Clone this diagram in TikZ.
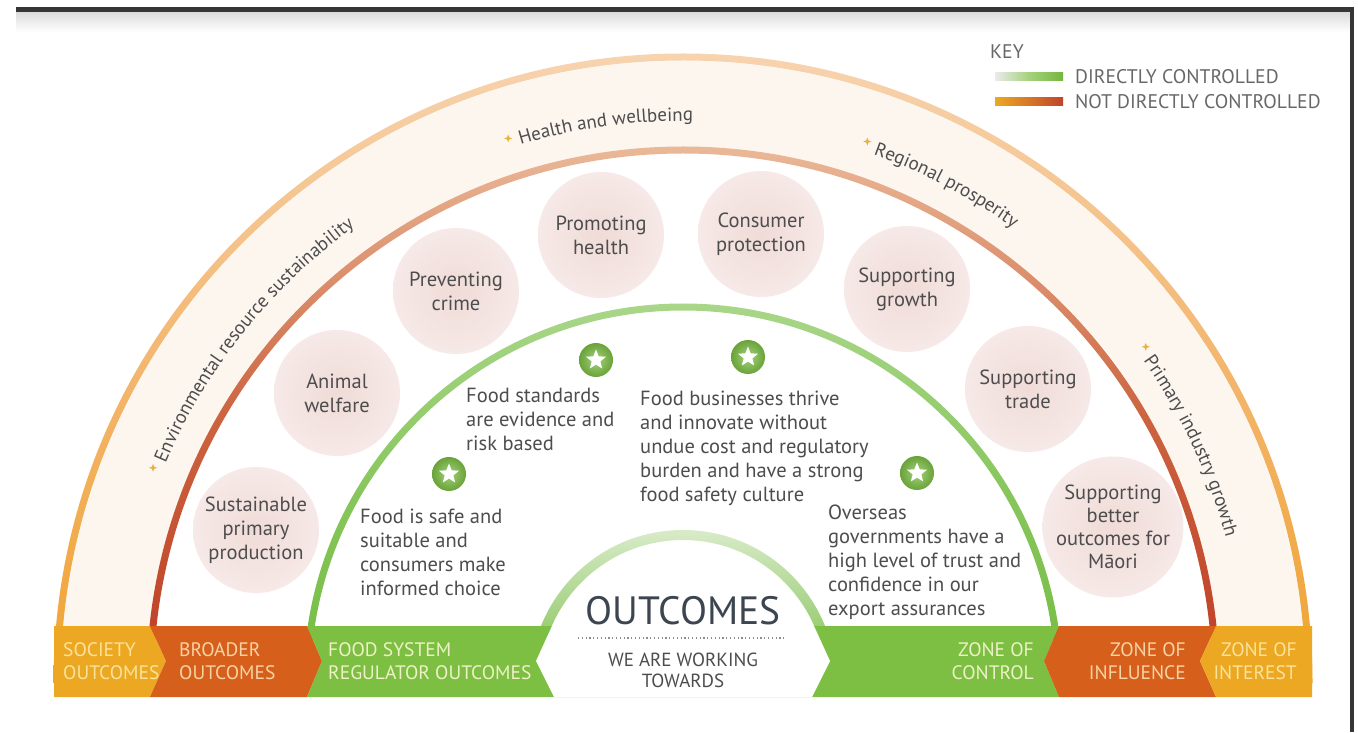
\documentclass[tikz,border=0pt]{standalone}
\usepackage{fontspec}
\setmainfont{PT Sans}
\usetikzlibrary{shapes.geometric,decorations.text}
\definecolor{yellowB}{HTML}{ECA823}
\definecolor{orangeB}{HTML}{D6601B}
\definecolor{greenB}{HTML}{7CBF43}
\definecolor{txtY}{HTML}{FBE39B}
\definecolor{txtO}{HTML}{F9D3A5}
\definecolor{txtG}{HTML}{EEF2C5}
\definecolor{txt}{HTML}{4D4D4D}
\definecolor{outc}{HTML}{3D4650}
\definecolor{cream}{HTML}{FCF6EF}
\definecolor{bubIn}{HTML}{F0DBD7}
\definecolor{bubOut}{HTML}{F6E9E7}
\definecolor{gold}{HTML}{E8B040}
\definecolor{frame}{HTML}{363636}
\newcommand\curvefont{\color{txt}\fontsize{19}{19}\selectfont}
\begin{document}
\begin{tikzpicture}[x=1pt,y=1pt,
  bubble/.style={circle, minimum size=126pt, inner sep=0pt, inner color=bubIn, outer color=bubOut, align=center, text=txt, font=\fontsize{20.5}{24}\selectfont},
  staricon/.style={circle, minimum size=34pt, inner sep=0pt, inner color=greenB!70!white, outer color=greenB!85!black},
  whitestar/.style={star, star points=5, star point ratio=2.3, minimum size=21pt, inner sep=0pt, fill=white},
  spark/.style={star, star points=4, star point ratio=2.6, minimum size=8pt, inner sep=0pt, fill=gold},
  body/.style={anchor=north west, inner sep=0pt, align=left, text=txt, font=\fontsize{20.5}{24}\selectfont},
  bandL/.style={anchor=west, inner sep=0pt, align=left, font=\fontsize{19.5}{23}\selectfont},
  bandR/.style={anchor=east, inner sep=0pt, align=right, font=\fontsize{19.5}{23}\selectfont},
  keytxt/.style={anchor=west, inner sep=0pt, text=txt!85, font=\fontsize{19.7}{19.7}\selectfont}
]
\useasboundingbox (0,0) rectangle (1358,732);
\fill[white] (0,0) rectangle (1358,732);
% frame
\shade[top color=black!14, bottom color=white] (16,700) rectangle (1350,720);
\fill[frame] (16,720) rectangle (1354,725);
\fill[frame] (1350,0) rectangle (1354,725);

\coordinate (C) at (683,49);
% cream ring
\fill[cream] (683+622,49) arc (0:180:622pt) -- (683-536,49) arc (180:0:536pt) -- cycle;
% outer arc
\shade[bottom color={rgb,255:red,239;green,163;blue,48}, top color={rgb,255:red,247;green,211;blue,175}, middle color={rgb,255:red,243;green,182;blue,110}]
  (683+629.5,49) arc (0:180:629.5pt) -- (683-622.5,49) arc (180:0:622.5pt) -- cycle;
% red arc
\shade[bottom color={rgb,255:red,190;green,60;blue,36}, top color={rgb,255:red,234;green,184;blue,152}, middle color={rgb,255:red,204;green,100;blue,64}]
  (683+536.5,49) arc (0:180:536.5pt) -- (683-529.5,49) arc (180:0:529.5pt) -- cycle;
% green arc
\shade[bottom color={rgb,255:red,116;green,188;blue,65}, top color={rgb,255:red,169;green,214;blue,137}, middle color={rgb,255:red,136;green,198;blue,92}]
  (683+379.5,49) arc (0:180:379.5pt) -- (683-372.5,49) arc (180:0:372.5pt) -- cycle;
% small arc
\shade[bottom color={rgb,255:red,125;green,192;blue,68}, top color={rgb,255:red,216;green,235;blue,200}, middle color={rgb,255:red,168;green,212;blue,136}]
  (683+153,49) arc (0:180:153pt) -- (683-143,49) arc (180:0:143pt) -- cycle;

% band
\fill[yellowB] (54,106) -- (150,106) -- (166,71) -- (150,35) -- (54,35) -- cycle;
\fill[orangeB] (150,106) -- (307,106) -- (322,71) -- (307,35) -- (150,35) -- (166,71) -- cycle;
\fill[greenB] (307,106) -- (1059,106) -- (1044,71) -- (1059,35) -- (307,35) -- (322,71) -- cycle;
\fill[orangeB] (1059,106) -- (1216,106) -- (1200,71) -- (1216,35) -- (1059,35) -- (1044,71) -- cycle;
\fill[yellowB] (1216,106) -- (1312,106) -- (1312,35) -- (1216,35) -- (1200,71) -- cycle;
\fill[white] (683-131,106) -- (683-147,71) -- (683-129,35) -- (683+129,35) -- (683+147,71) -- (683+131,106) -- cycle;

% band texts
\node[bandL, text=txtY] (b1) at (63,70.5) {SOCIETY\\OUTCOMES};
\node[bandL, text=txtO] (b2) at (179,70.5) {BROADER\\OUTCOMES};
\node[bandL, text=txtG] (b3) at (328,70.5) {FOOD SYSTEM\\REGULATOR OUTCOMES};
\node[bandR, text=txtG] (b4) at (1034,70.5) {ZONE OF\\CONTROL};
\node[bandR, text=txtO] (b5) at (1186,70.5) {ZONE OF\\INFLUENCE};
\node[bandR, text=txtY] (b6) at (1297,70.5) {ZONE OF\\INTEREST};

% outcomes
\node[inner sep=0pt, text=outc, font=\fontsize{39.5}{39.5}\selectfont] (out) at (683,121) {OUTCOMES};
\coordinate (dl) at (578,94);
\coordinate (dr) at (786,94);
\draw[black!45, line width=1.2pt, dash pattern=on 1.2pt off 2.6pt] (dl) -- (dr);
\node[inner sep=0pt, align=center, text=txt, font=\fontsize{19}{21}\selectfont] (wa) at (683,61.5) {WE ARE WORKING\\TOWARDS};

% bubbles
\node[bubble] (c1) at (256,202) {Sustainable\\primary\\production};
\node[bubble] (c2) at (337,339) {Animal\\welfare};
\node[bubble] (c3) at (456,441) {Preventing\\crime};
\node[bubble] (c4) at (601,497) {Promoting\\health};
\node[bubble] (c5) at (761,498) {Consumer\\protection};
\node[bubble] (c6) at (907,443) {Supporting\\growth};
\node[bubble] (c7) at (1028,343) {Supporting\\trade};
\node[bubble, font=\fontsize{20.5}{23}\selectfont] (c8) at (1113,205) {Supporting\\better\\outcomes for\\Māori};

% star icons
\node[staricon] (s1) at (596,372) {};
\node[staricon] (s2) at (748,375) {};
\node[staricon] (s3) at (449,258) {};
\node[staricon] (s4) at (917,259) {};
\node[whitestar] (w1) at (s1) {};
\node[whitestar] (w2) at (s2) {};
\node[whitestar] (w3) at (s3) {};
\node[whitestar] (w4) at (s4) {};

% body texts
\node[body] (t1) at (466,344) {Food standards\\are evidence and\\risk based};
\node[body] (t2) at (640,341) {Food businesses thrive\\and innovate without\\undue cost and regulatory\\burden and have a strong\\food safety culture};
\node[body] (t3) at (360,223) {Food is safe and\\suitable and\\consumers make\\informed choice};
\node[body] (t4) at (828,227) {Overseas\\governments have a\\high level of trust and\\confidence in our\\export assurances};

% curved texts
\node[spark] (k1) at ([shift={(C)}]157.9:572pt) {};
\node[spark] (k2) at ([shift={(C)}]107.8:572pt) {};
\node[spark] (k3) at ([shift={(C)}]71.2:572pt) {};
\node[spark] (k4) at ([shift={(C)}]36.0:572pt) {};
\path[decorate, decoration={text along path, text align=left, text={|\curvefont|Environmental resource sustainability}}]
  ([shift={(C)}]157:562pt) arc (157:100:562pt);
\path[decorate, decoration={text along path, text align=left, text={|\curvefont|Health and wellbeing}}]
  ([shift={(C)}]106.8:562pt) arc (106.8:70:562pt);
\path[decorate, decoration={text along path, text align=left, text={|\curvefont|Regional prosperity}}]
  ([shift={(C)}]70.2:562pt) arc (70.2:35:562pt);
\path[decorate, decoration={text along path, text align=left, text={|\curvefont|Primary industry growth}}]
  ([shift={(C)}]35.0:562pt) arc (35.0:0:562pt);

% key
\node[keytxt] (key) at (990,680) {KEY};
\shade[left color=black!8, right color=greenB!95!black, middle color=greenB!70!white] (995,651) rectangle (1063,659);
\shade[left color=yellowB, right color={rgb,255:red,192;green,69;blue,42}] (995,626) rectangle (1063,634);
\node[keytxt] (k1t) at (1075,655) {DIRECTLY CONTROLLED};
\node[keytxt] (k2t) at (1075,630) {NOT DIRECTLY CONTROLLED};
\end{tikzpicture}
\end{document}
